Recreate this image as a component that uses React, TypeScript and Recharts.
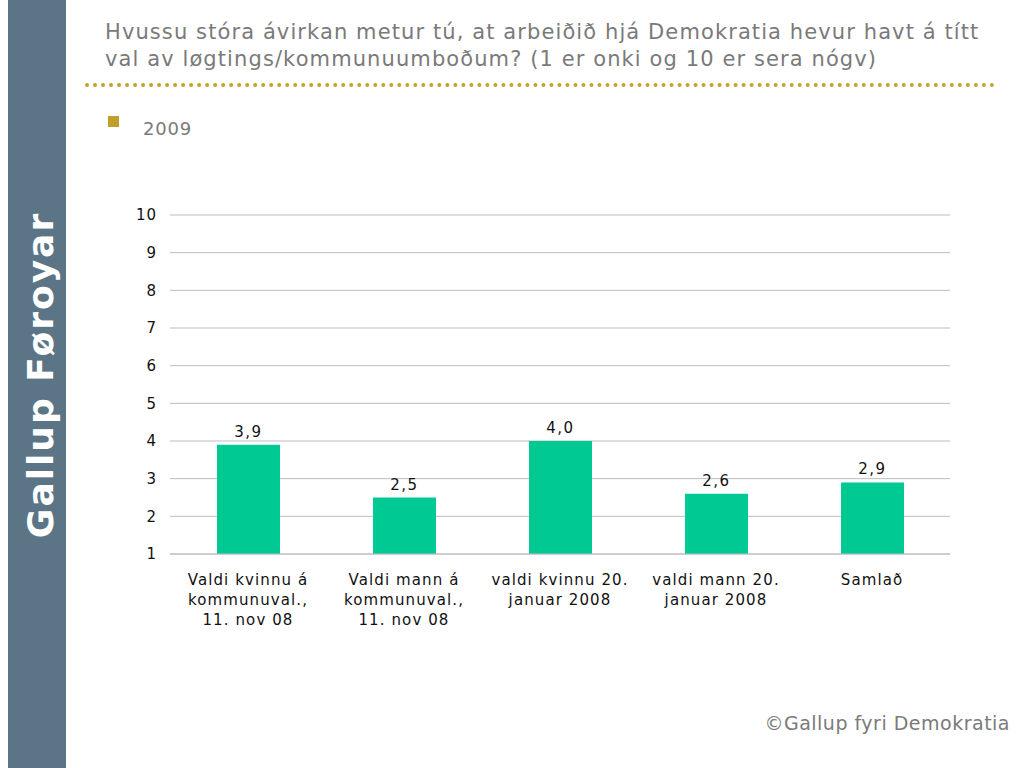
import { Bar, BarChart, CartesianGrid, LabelList, XAxis, YAxis } from 'recharts'

const categories = [
  'Valdi kvinnu á\nkommunuval.,\n11. nov 08',
  'Valdi mann á\nkommunuval.,\n11. nov 08',
  'valdi kvinnu 20.\njanuar 2008',
  'valdi mann 20.\njanuar 2008',
  'Samlað',
]
const values2009 = [3.9, 2.5, 4.0, 2.6, 2.9]
const yTicks = [1, 2, 3, 4, 5, 6, 7, 8, 9, 10]

const data = categories.map((name, i) => ({ name, v2009: values2009[i] }))

const FONT = '"DejaVu Sans", Verdana, sans-serif'

function CategoryTick({ x, y, payload }: any) {
  const lines = String(payload.value).split('\n')
  return (
    <text x={x} y={y} textAnchor="middle" fill="#111" fontSize={15} fontFamily={FONT} letterSpacing={1.1}>
      {lines.map((l, i) => (
        <tspan key={i} x={x} dy={i === 0 ? 23 : 20}>
          {l}
        </tspan>
      ))}
    </text>
  )
}

export default function App() {
  return (
    <div style={{ position: 'fixed', left: 0, top: 0, width: 1024, height: 768, background: '#fff', fontFamily: FONT, overflow: 'hidden' }}>
      <div style={{ position: 'absolute', left: 8, top: 0, width: 58, height: 768, background: '#5b7587' }} />
      <div
        style={{
          position: 'absolute',
          left: 40,
          top: 375,
          transform: 'translate(-50%, -50%) rotate(-90deg)',
          color: '#fff',
          fontWeight: 'bold',
          fontSize: 36,
          whiteSpace: 'nowrap',
          letterSpacing: 2,
        }}
      >
        Gallup Føroyar
      </div>

      <div style={{ position: 'absolute', left: 105, top: 19, width: 910, color: '#7a7a7a', fontSize: 21, lineHeight: '27px', letterSpacing: 1.1, whiteSpace: 'nowrap' }}>
        Hvussu stóra ávirkan metur tú, at arbeiðið hjá Demokratia hevur havt á títt
        <br />
        val av løgtings/kommunuumboðum? (1 er onki og 10 er sera nógv)
      </div>
      <div style={{ position: 'absolute', left: 85, top: 83, width: 910, borderTop: '4px dotted #c2a42c' }} />

      <div style={{ position: 'absolute', left: 108, top: 116, width: 11, height: 11, background: '#c29f2a' }} />
      <div style={{ position: 'absolute', left: 143, top: 118, color: '#7a7a7a', fontSize: 18, letterSpacing: 0.8 }}>2009</div>

      <div style={{ position: 'absolute', left: 100, top: 190 }}>
        <BarChart width={870} height={460} data={data} margin={{ top: 25, right: 20, bottom: 16, left: 0 }}>
          <CartesianGrid vertical={false} stroke="#bdbdbd" />
          <XAxis
            dataKey="name"
            tick={<CategoryTick />}
            tickLine={false}
            axisLine={{ stroke: '#bdbdbd' }}
            interval={0}
            height={80}
          />
          <YAxis
            domain={[1, 10]}
            ticks={yTicks}
            interval={0}
            width={70}
            tickLine={false}
            axisLine={false}
            tickMargin={7}
            tick={{ fill: '#111', fontSize: 15, fontFamily: FONT, letterSpacing: 1 }}
          />
          <Bar dataKey="v2009" fill="#00c994" barSize={63} isAnimationActive={false}>
            <LabelList
              dataKey="v2009"
              position="top"
              offset={8}
              formatter={(v: any) => Number(v).toFixed(1).replace('.', ',')}
              style={{ fill: '#111', fontSize: 15, fontFamily: FONT, letterSpacing: 1.5 }}
            />
          </Bar>
        </BarChart>
      </div>

      <div style={{ position: 'absolute', right: 14, top: 712, color: '#7a7a7a', fontSize: 19, letterSpacing: 0.5 }}>©Gallup fyri Demokratia</div>
    </div>
  )
}
